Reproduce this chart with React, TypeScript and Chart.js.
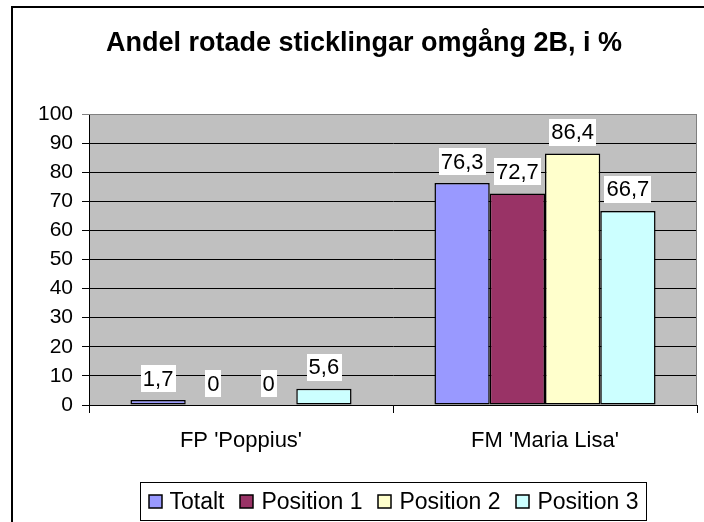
import React, { useEffect, useRef } from 'react';
import { Chart, registerables } from 'chart.js';

Chart.register(...registerables);

const chartTitle = 'Andel rotade sticklingar omgång 2B, i %';
const categories = ["FP 'Poppius'", "FM 'Maria Lisa'"];
const seriesNames = ['Totalt', 'Position 1', 'Position 2', 'Position 3'];
const totalt = [1.7, 76.3];
const position1 = [0, 72.7];
const position2 = [0, 86.4];
const position3 = [5.6, 66.7];
const seriesColors = ['#9999FF', '#993366', '#FFFFCC', '#CCFFFF'];
const yMin = 0;
const yMax = 100;
const yStep = 10;

const FONT = '"Liberation Sans", Arial, Helvetica, sans-serif';

const fmt = (v: number) => String(v).replace('.', ',');

const decorPlugin = {
  id: 'decor',
  beforeDraw(chart: any) {
    const { ctx, chartArea } = chart;
    ctx.save();
    ctx.fillStyle = '#FFFFFF';
    ctx.fillRect(0, 0, chart.width, chart.height);
    ctx.fillStyle = '#C0C0C0';
    ctx.fillRect(chartArea.left, chartArea.top, chartArea.right - chartArea.left, chartArea.bottom - chartArea.top);
    ctx.restore();
  },
  afterDatasetsDraw(chart: any) {
    const { ctx } = chart;
    ctx.save();
    ctx.font = `22px ${FONT}`;
    ctx.textAlign = 'center';
    ctx.textBaseline = 'middle';
    chart.data.datasets.forEach((ds: any, di: number) => {
      const meta = chart.getDatasetMeta(di);
      meta.data.forEach((bar: any, i: number) => {
        const v = ds.data[i];
        const txt = fmt(v);
        const w = ctx.measureText(txt).width;
        const h = 27;
        const bottom = bar.y - 8;
        ctx.fillStyle = '#FFFFFF';
        ctx.fillRect(Math.round(bar.x - w / 2 - 2), Math.round(bottom - h), Math.round(w + 4), h);
        ctx.fillStyle = '#000000';
        ctx.fillText(txt, bar.x, bottom - h / 2 + 1);
      });
    });
    ctx.restore();
  },
  afterDraw(chart: any) {
    const { ctx, chartArea } = chart;
    ctx.save();
    // plot area gray top/right border
    ctx.strokeStyle = '#808080';
    ctx.lineWidth = 1;
    ctx.beginPath();
    ctx.moveTo(chartArea.left, chartArea.top + 0.5);
    ctx.lineTo(chartArea.right - 0.5, chartArea.top + 0.5);
    ctx.lineTo(chartArea.right - 0.5, chartArea.bottom);
    ctx.stroke();

    // outer frame
    ctx.strokeStyle = '#000000';
    ctx.lineWidth = 2;
    ctx.beginPath();
    ctx.moveTo(12, chart.height + 2);
    ctx.lineTo(12, 7);
    ctx.lineTo(chart.width + 2, 7);
    ctx.stroke();

    // title
    ctx.fillStyle = '#000000';
    ctx.font = `bold 27px ${FONT}`;
    ctx.textAlign = 'center';
    ctx.textBaseline = 'alphabetic';
    ctx.fillText(chartTitle, 364, 51);

    // legend
    ctx.font = `23px ${FONT}`;
    const sq = 13;
    const gapSq = 8;
    const itemGap = 16;
    const padL = 8;
    const padR = 8;
    const widths = seriesNames.map((n) => ctx.measureText(n).width);
    let total = padL + padR;
    widths.forEach((w, i) => {
      total += sq + gapSq + w + (i > 0 ? itemGap : 0);
    });
    total = Math.round(total);
    const cx = (chartArea.left + chartArea.right) / 2;
    const boxL = Math.round(cx - total / 2) + 0.5;
    const boxT = 482.5;
    const boxH = 38;
    ctx.fillStyle = '#FFFFFF';
    ctx.fillRect(boxL, boxT, total, boxH);
    ctx.strokeStyle = '#000000';
    ctx.lineWidth = 1;
    ctx.strokeRect(boxL, boxT, total, boxH);
    let x = boxL + padL;
    const cy = boxT + boxH / 2;
    ctx.textAlign = 'left';
    ctx.textBaseline = 'middle';
    seriesNames.forEach((n, i) => {
      ctx.fillStyle = seriesColors[i];
      ctx.fillRect(Math.round(x), Math.round(cy - sq / 2), sq, sq);
      ctx.strokeStyle = '#000000';
      ctx.lineWidth = 1.5;
      ctx.strokeRect(Math.round(x), Math.round(cy - sq / 2), sq, sq);
      x += sq + gapSq;
      ctx.fillStyle = '#000000';
      ctx.fillText(n, x, cy + 1);
      x += widths[i] + itemGap;
    });
    ctx.restore();
  },
};

export default function App() {
  const ref = useRef<HTMLCanvasElement | null>(null);
  useEffect(() => {
    if (!ref.current) return;
    const seriesData = [totalt, position1, position2, position3];
    const chart = new Chart(ref.current, {
      type: 'bar',
      data: {
        labels: categories,
        datasets: seriesNames.map((name, i) => ({
          label: name,
          data: seriesData[i],
          backgroundColor: seriesColors[i],
          borderColor: '#000000',
          borderWidth: (c: any) => (c.raw === 0 ? 0 : 1.5),
          borderSkipped: false,
          categoryPercentage: 4 / 5.5,
          barPercentage: 1,
        })),
      },
      options: {
        responsive: false,
        animation: false,
        devicePixelRatio: 1,
        layout: { padding: { left: 0, top: 114, right: 7, bottom: 0 } },
        plugins: {
          legend: { display: false },
          title: { display: false },
          tooltip: { enabled: false },
        },
        scales: {
          x: {
            afterFit: (s: any) => { s.height = 117; },
            grid: {
              offset: true,
              drawOnChartArea: false,
              drawTicks: true,
              tickLength: 8,
              color: '#000000',
              lineWidth: 1,
            },
            border: { display: true, color: '#000000', width: 1 },
            ticks: {
              color: '#000000',
              font: { family: FONT, size: 22 },
              padding: 15,
            },
          },
          y: {
            min: yMin,
            max: yMax,
            afterFit: (s: any) => { s.width = 89; },
            grid: {
              color: (c: any) => (c.tick && c.tick.value === yMax ? '#808080' : '#000000'),
              lineWidth: 1,
              drawTicks: true,
              tickLength: 7,
            },
            border: { display: true, color: '#000000', width: 1 },
            ticks: {
              stepSize: yStep,
              color: '#000000',
              font: { family: FONT, size: 21 },
              padding: 9,
            },
          },
        },
      },
      plugins: [decorPlugin],
    } as any);
    return () => chart.destroy();
  }, []);
  return (
    <div style={{ position: 'absolute', left: 0, top: 0, width: 704, height: 522 }}>
      <canvas ref={ref} width={704} height={522} style={{ display: 'block', width: 704, height: 522 }} />
    </div>
  );
}
